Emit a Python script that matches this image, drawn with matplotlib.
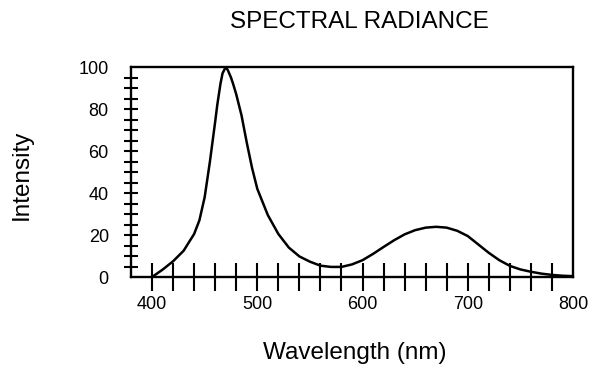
import matplotlib
matplotlib.use('Agg')
import matplotlib.pyplot as plt
from matplotlib.ticker import FixedLocator

# --- data ---
wavelength = [400, 410, 420, 430, 440, 445, 450, 455, 460, 462, 465, 467, 470,
              472, 475, 477, 480, 485, 490, 495, 500, 510, 520, 530, 540, 550,
              560, 570, 580, 590, 600, 610, 620, 630, 640, 650, 660, 670, 680,
              690, 700, 710, 720, 730, 740, 750, 760, 770, 780, 790, 800]
intensity = [0, 3.5, 7.5, 12.5, 20.5, 27, 38, 55, 74, 82, 92, 97, 100,
             98.5, 95, 92, 87, 77, 64, 52, 42, 29.5, 20.5, 14, 9.8, 7.3,
             5.4, 4.8, 4.8, 6, 8, 11, 14.3, 17.5, 20.3, 22.3, 23.5, 23.9, 23.5,
             22, 19.5, 15.5, 11.5, 8, 5.3, 3.6, 2.5, 1.6, 1, 0.6, 0.4]

x_labels = [400, 500, 600, 700, 800]
x_minor = list(range(400, 781, 20))
y_labels = [0, 20, 40, 60, 80, 100]
y_minor = list(range(5, 96, 5))

plt.rcParams['font.family'] = ['Liberation Sans', 'DejaVu Sans']

fig = plt.figure(figsize=(5.92, 3.83), dpi=100)
ax = fig.add_axes([131 / 592, 1 - 277 / 383, 442 / 592, 210 / 383])

ax.plot(wavelength, intensity, color='black', lw=1.8)
ax.set_xlim(380, 800)
ax.set_ylim(0, 100)

for s in ax.spines.values():
    s.set_linewidth(1.7)

ax.xaxis.set_major_locator(FixedLocator(x_labels))
ax.xaxis.set_minor_locator(FixedLocator(x_minor))
ax.yaxis.set_major_locator(FixedLocator(y_labels))
ax.yaxis.set_minor_locator(FixedLocator(y_minor))
ax.xaxis.remove_overlapping_locs = False
ax.yaxis.remove_overlapping_locs = False

ax.tick_params(axis='x', which='major', length=0, pad=14, labelsize=13)
ax.tick_params(axis='y', which='major', length=0, pad=16, labelsize=13)
ax.tick_params(axis='x', which='minor', direction='inout', length=20, width=1.5)
ax.tick_params(axis='y', which='minor', direction='inout', length=10, width=1.5)

fig.text(359 / 592, 1 - 22 / 383, 'SPECTRAL RADIANCE', ha='center', va='center', fontsize=17.5)
fig.text(355 / 592, 1 - 353 / 383, 'Wavelength (nm)', ha='center', va='center', fontsize=17.5)
fig.text(22 / 592, 1 - 175 / 383, 'Intensity', ha='center', va='center', rotation=90, fontsize=17.5)

plt.savefig('out.png', dpi=100)
